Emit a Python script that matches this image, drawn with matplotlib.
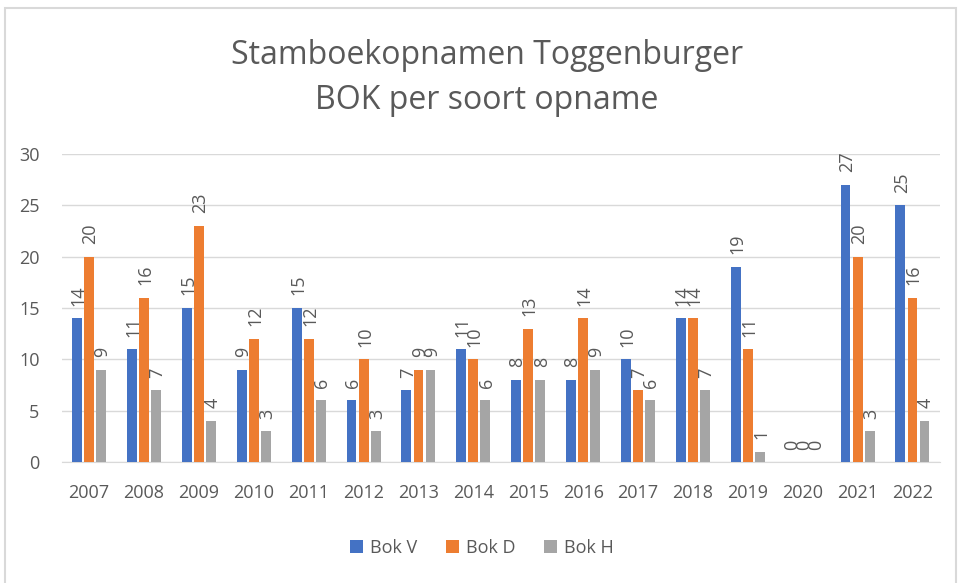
import matplotlib
matplotlib.use("Agg")
import matplotlib.pyplot as plt
import numpy as np
from matplotlib.patches import Rectangle

years = ["2007", "2008", "2009", "2010", "2011", "2012", "2013", "2014",
         "2015", "2016", "2017", "2018", "2019", "2020", "2021", "2022"]
bok_v = [14, 11, 15, 9, 15, 6, 7, 11, 8, 8, 10, 14, 19, 0, 27, 25]
bok_d = [20, 16, 23, 12, 12, 10, 9, 10, 13, 14, 7, 14, 11, 0, 20, 16]
bok_h = [9, 7, 4, 3, 6, 3, 9, 6, 8, 9, 6, 7, 1, 0, 3, 4]
series = [("Bok V", bok_v, "#4472C4"), ("Bok D", bok_d, "#ED7D31"), ("Bok H", bok_h, "#A5A5A5")]

plt.rcParams['font.family'] = ['Open Sans', 'DejaVu Sans']
txt = "#595959"

fig = plt.figure(figsize=(9.64, 5.83), dpi=100)
ax = fig.add_axes([0.064, 0.2075, 0.911, 0.5285])

x = np.arange(len(years))
w = 0.18
offs = [-0.22, 0.0, 0.22]
handles = []
for (name, vals, col), o in zip(series, offs):
    b = ax.bar(x + o, vals, width=w, color=col, label=name, zorder=3)
    handles.append(b)
    for xi, v in zip(x, vals):
        ax.annotate(str(v), (xi + o, v), xytext=(1, 9), textcoords="offset points",
                    rotation=90, ha="center", va="bottom",
                    fontsize=13, color=txt, annotation_clip=False, zorder=4)

ax.set_xlim(-0.5, len(years) - 0.5)
ax.set_ylim(0, 30)
ax.set_yticks(range(0, 31, 5))
ax.set_xticks(x)
ax.set_xticklabels(years)
ax.tick_params(axis="both", length=0, labelsize=13, colors=txt)
ax.tick_params(axis="y", pad=16)
ax.tick_params(axis="x", pad=16)
ax.grid(axis="y", color="#D9D9D9", linewidth=1, zorder=0)
for s in ["top", "right", "left"]:
    ax.spines[s].set_visible(False)
ax.spines["bottom"].set_color("#D9D9D9")

fig.text(0.505, 0.866, "Stamboekopnamen Toggenburger\nBOK per soort opname", ha="center", va="center",
         fontsize=23, color=txt, linespacing=1.5)

fig.legend(handles=handles, loc="center", bbox_to_anchor=(0.5, 0.06), ncol=3, frameon=False,
           fontsize=13, labelcolor=txt, handlelength=0.7, handleheight=0.7, handletextpad=0.4,
           columnspacing=1.6)

fig.patches.append(Rectangle((0.005, -0.01), 0.987, 0.996, transform=fig.transFigure,
                             fill=False, edgecolor="#D9D9D9", linewidth=1.5))

fig.savefig("out.png", dpi=100)
